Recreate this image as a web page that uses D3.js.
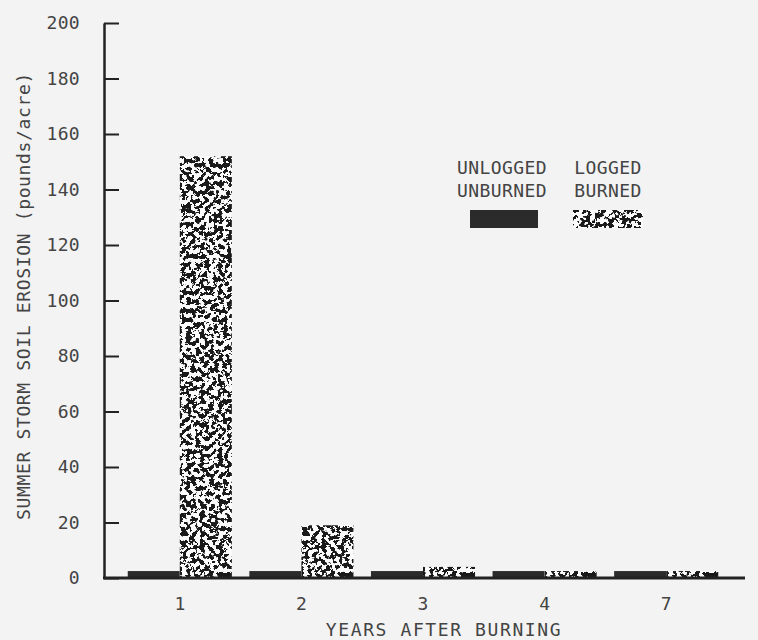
<!DOCTYPE html>
<html>
<head>
<meta charset="utf-8">
<script src="https://cdn.jsdelivr.net/npm/d3@7/dist/d3.min.js"></script>
<style>
  html, body { margin: 0; padding: 0; background: #f3f3f3; }
  svg { display: block; }
  text { font-family: "DejaVu Sans Mono", "Liberation Mono", monospace; fill: #444; }
</style>
</head>
<body>
<svg id="chart" width="758" height="640"></svg>
<script>
// ---- data ----
const years = ["1", "2", "3", "4", "7"];
const seriesNames = ["UNLOGGED UNBURNED", "LOGGED BURNED"];
const unloggedUnburned = [2.5, 2.5, 2.5, 2.5, 2.5];
const loggedBurned = [152, 19, 4, 2.5, 2.5];
const yTicks = [0, 20, 40, 60, 80, 100, 120, 140, 160, 180, 200];

const svg = d3.select("#chart");

// speckle filter
const defs = svg.append("defs");
const f = defs.append("filter").attr("id", "speckle")
  .attr("x", 0).attr("y", 0).attr("width", 1).attr("height", 1)
  .attr("color-interpolation-filters", "sRGB");
f.append("feTurbulence").attr("type", "fractalNoise").attr("baseFrequency", 0.22)
  .attr("numOctaves", 3).attr("seed", 11).attr("result", "n");
f.append("feColorMatrix").attr("in", "n").attr("type", "matrix")
  .attr("values", "0 0 0 0 0.1  0 0 0 0 0.1  0 0 0 0 0.1  -40 0 0 0 20.3")
  .attr("result", "dots");
f.append("feComposite").attr("in", "dots").attr("in2", "SourceGraphic")
  .attr("operator", "in").attr("result", "clipped");
const m = f.append("feMerge");
m.append("feMergeNode").attr("in", "SourceGraphic");
m.append("feMergeNode").attr("in", "clipped");

// scales
const y = d3.scaleLinear().domain([0, 200]).range([578, 23]);
const x = d3.scaleBand().domain(years).range([119, 727])
  .paddingInner(0.144).paddingOuter(0.072);
const xs = d3.scaleBand().domain(seriesNames).range([0, x.bandwidth()]).padding(0);

const rows = years.map((yr, i) => ({ year: yr, vals: [unloggedUnburned[i], loggedBurned[i]] }));

// bars
const g = svg.append("g");
const grp = g.selectAll("g.yr").data(rows).join("g")
  .attr("transform", d => `translate(${x(d.year)},0)`);
grp.selectAll("rect").data(d => d.vals.map((v, j) => ({ v, s: seriesNames[j], j })))
  .join("rect")
  .attr("x", d => xs(d.s))
  .attr("width", xs.bandwidth())
  .attr("y", d => y(d.v))
  .attr("height", d => y(0) - y(d.v))
  .attr("fill", d => d.j === 0 ? "#2b2b2b" : "#fbfbfb")
  .attr("filter", d => d.j === 1 ? "url(#speckle)" : null);

// y axis
const yAxis = d3.axisLeft(y).tickValues(yTicks).tickSizeInner(-15).tickSizeOuter(0).tickPadding(24);
const ya = svg.append("g").attr("transform", "translate(104,0)").call(yAxis);
ya.select(".domain").attr("stroke", "#222").attr("stroke-width", 2.5);
ya.selectAll(".tick line").attr("stroke", "#222").attr("stroke-width", 2);
ya.selectAll(".tick text").style("font-size", "18px").style("letter-spacing", "0.3px")
  .attr("fill", "#444");

// x axis
const xAxis = d3.axisBottom(x).tickSize(0).tickPadding(19);
const xa = svg.append("g").attr("transform", `translate(0,${y(0)})`).call(xAxis);
xa.select(".domain").remove();
xa.selectAll(".tick text").style("font-size", "18px").attr("fill", "#444");
svg.append("line").attr("x1", 103).attr("x2", 745).attr("y1", y(0)).attr("y2", y(0))
  .attr("stroke", "#222").attr("stroke-width", 3);

// axis titles
svg.append("text").attr("x", 444).attr("y", 636).attr("text-anchor", "middle")
  .style("font-size", "18px").style("letter-spacing", "1.6px").text("YEARS AFTER BURNING");
svg.append("text").attr("transform", "translate(30,296) rotate(-90)").attr("text-anchor", "middle")
  .style("font-size", "18px").style("letter-spacing", "0.65px")
  .text("SUMMER STORM SOIL EROSION (pounds/acre)");

// legend
const legend = [
  { l1: "UNLOGGED", l2: "UNBURNED", cx: 502, x0: 470, w: 68, j: 0 },
  { l1: "LOGGED", l2: "BURNED", cx: 608, x0: 573, w: 70, j: 1 }
];
const lg = svg.append("g");
legend.forEach(d => {
  lg.append("text").attr("x", d.cx).attr("y", 174).attr("text-anchor", "middle")
    .style("font-size", "18px").style("letter-spacing", "0.4px").text(d.l1);
  lg.append("text").attr("x", d.cx).attr("y", 197).attr("text-anchor", "middle")
    .style("font-size", "18px").style("letter-spacing", "0.4px").text(d.l2);
  lg.append("rect").attr("x", d.x0).attr("y", 210).attr("width", d.w).attr("height", 18)
    .attr("fill", d.j === 0 ? "#2b2b2b" : "#fbfbfb")
    .attr("filter", d.j === 1 ? "url(#speckle)" : null);
});
</script>
</body>
</html>
